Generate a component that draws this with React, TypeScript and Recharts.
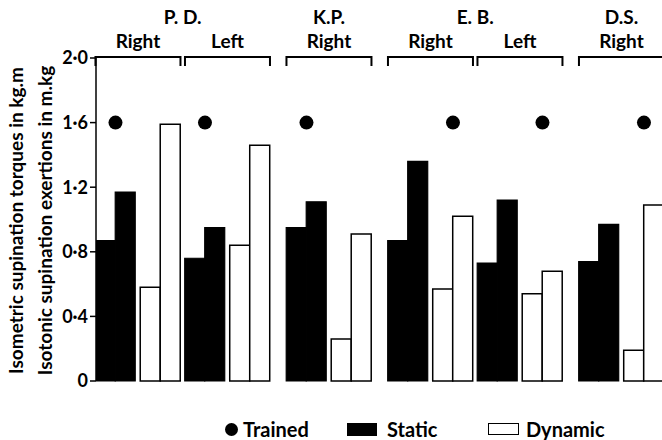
import * as React from "react";
import {
  ComposedChart,
  Bar,
  Scatter,
  XAxis,
  YAxis,
  Legend,
} from "recharts";

// subjects / arms, left to right
const subjects = ["P. D.", "P. D.", "K.P.", "E. B.", "E. B.", "D.S."];
const arms = ["Right", "Left", "Right", "Right", "Left", "Right"];
// which kind of training each arm received
const trainedType = ["static", "static", "static", "dynamic", "dynamic", "dynamic"];

// isometric (static) torques, kg.m
const staticBefore = [0.87, 0.76, 0.95, 0.87, 0.73, 0.74];
const staticAfter = [1.17, 0.95, 1.11, 1.36, 1.12, 0.97];
// isotonic (dynamic) exertions, m.kg
const dynamicBefore = [0.58, 0.84, 0.26, 0.57, 0.54, 0.19];
const dynamicAfter = [1.59, 1.46, 0.91, 1.02, 0.68, 1.09];

const trainedLevel = 1.6;
const yTicks = [0, 0.4, 0.8, 1.2, 1.6, 2.0];
const legendNames = ["Trained", "Static", "Dynamic"];

const FONT = "Lato, 'Open Sans', sans-serif";
const BAR = 20;
const SPACER = 5;
const HALF = (4 * BAR + SPACER) / 2;
const UNIT_PX = 89.5;
const SUBJECT_STEP = 1.134;

// arm positions: arms of the same subject sit closer together
const positions: number[] = [];
subjects.forEach((s, i) => {
  if (i === 0) positions.push(0);
  else positions.push(positions[i - 1] + (s === subjects[i - 1] ? 1 : SUBJECT_STEP));
});
const domain: [number, number] = [-0.469, -0.469 + 566 / UNIT_PX];

const subjectNames = subjects.filter((s, i) => subjects.indexOf(s) === i);
const subjectCenters = subjectNames.map((s) => {
  const ps = positions.filter((_, i) => subjects[i] === s);
  return ps.reduce((a, b) => a + b, 0) / ps.length;
});

const data = positions.map((x, i) => ({
  x,
  arm: arms[i],
  staticBefore: staticBefore[i],
  staticAfter: staticAfter[i],
  dynamicBefore: dynamicBefore[i],
  dynamicAfter: dynamicAfter[i],
}));

// dot sits over the middle of the trained pair
const pairShift = (BAR + SPACER / 2) / UNIT_PX;
const trainedData = positions.map((x, i) => ({
  x: trainedType[i] === "static" ? x - pairShift : x + pairShift,
  level: trainedLevel,
}));

const textStyle = { fontFamily: FONT, fontWeight: 700, fontSize: 19, fill: "#000" };

const ArmTick = (props: any) => {
  const { x, y, payload } = props;
  const i = positions.findIndex((p) => Math.abs(p - payload.value) < 1e-6);
  return (
    <g>
      <path
        d={`M${x - HALF},${y + 8}V${y - 1}H${x + HALF}V${y + 8}`}
        fill="none"
        stroke="#000"
        strokeWidth={2}
      />
      <text x={x} y={y - 10} textAnchor="middle" {...textStyle}>
        {arms[i]}
      </text>
    </g>
  );
};

const SubjectTick = (props: any) => {
  const { x, y, payload } = props;
  const i = subjectCenters.findIndex((p) => Math.abs(p - payload.value) < 1e-6);
  return (
    <text x={x} y={y - 14} textAnchor="middle" {...textStyle}>
      {subjectNames[i]}
    </text>
  );
};

const YLabel = (props: any) => {
  const { viewBox } = props;
  const cy = (viewBox?.y || 0) + (viewBox?.height || 0) / 2 + 1;
  const style = { ...textStyle, fontSize: 19 };
  return (
    <g>
      <text
        x={15}
        y={cy}
        transform={`rotate(-90, 15, ${cy})`}
        textAnchor="middle"
        dominantBaseline="central"
        {...style}
      >
        Isometric supination torques in kg.m
      </text>
      <text
        x={44}
        y={cy}
        transform={`rotate(-90, 44, ${cy})`}
        textAnchor="middle"
        dominantBaseline="central"
        {...style}
      >
        Isotonic supination exertions in m.kg
      </text>
    </g>
  );
};

const legendLeft = [225, 347, 488];

const LegendContent = () => (
  <div style={{ position: "relative", width: 662, height: 22, fontFamily: FONT, fontWeight: 700, fontSize: 20 }}>
    {legendNames.map((name, i) => (
      <div
        key={name}
        style={{ position: "absolute", left: legendLeft[i], top: 0, display: "flex", alignItems: "center", height: 22 }}
      >
        {i === 0 && (
          <span style={{ width: 13, height: 13, borderRadius: 7, background: "#000", marginRight: 5 }} />
        )}
        {i === 1 && <span style={{ width: 30, height: 13, background: "#000", marginRight: 10 }} />}
        {i === 2 && (
          <span
            style={{ width: 29, height: 10, border: "1.5px solid #000", background: "#fff", marginRight: 7 }}
          />
        )}
        <span>{name}</span>
      </div>
    ))}
  </div>
);

const yFormat = (v: number) => (v === 0 ? "0" : v.toFixed(1).replace(".", "·"));

export default function App() {
  return (
    <div style={{ position: "absolute", left: 0, top: 0, background: "#fff" }}>
      <ComposedChart
        width={662}
        height={440}
        data={data}
        barGap={0}
        margin={{ top: 18, right: 0, bottom: 59, left: 0 }}
      >
        <XAxis
          xAxisId="arm"
          orientation="top"
          type="number"
          dataKey="x"
          domain={domain}
          allowDataOverflow
          ticks={positions}
          interval={0}
          tick={<ArmTick />}
          tickSize={0}
          tickMargin={0}
          axisLine={false}
          tickLine={false}
          height={20}
        />
        <XAxis
          xAxisId="subject"
          orientation="top"
          type="number"
          dataKey="x"
          domain={domain}
          allowDataOverflow
          ticks={subjectCenters}
          interval={0}
          tick={<SubjectTick />}
          tickSize={0}
          tickMargin={0}
          axisLine={false}
          tickLine={false}
          height={20}
        />
        <XAxis
          xAxisId="bars"
          type="number"
          dataKey="x"
          domain={domain}
          allowDataOverflow
          tick={false}
          tickLine={false}
          axisLine={{ stroke: "#000", strokeWidth: 1.5 }}
          height={0}
        />
        <XAxis xAxisId="dots" type="number" dataKey="x" domain={domain} allowDataOverflow hide />
        <YAxis
          type="number"
          domain={[0, 2]}
          ticks={yTicks}
          interval={0}
          tickFormatter={yFormat}
          width={96}
          tickSize={6}
          tickMargin={2}
          axisLine={{ stroke: "#000", strokeWidth: 1.5 }}
          tickLine={{ stroke: "#000", strokeWidth: 1.5 }}
          tick={{ ...textStyle, fontSize: 18 }}
          label={<YLabel />}
        />
        <Bar
          xAxisId="bars"
          dataKey="staticBefore"
          barSize={BAR}
          fill="#000"
          stroke="#000"
          strokeWidth={1.2}
          isAnimationActive={false}
        />
        <Bar
          xAxisId="bars"
          dataKey="staticAfter"
          barSize={BAR}
          fill="#000"
          stroke="#000"
          strokeWidth={1.2}
          isAnimationActive={false}
        />
        <Bar xAxisId="bars" dataKey={() => 0} barSize={SPACER} fill="none" isAnimationActive={false} />
        <Bar
          xAxisId="bars"
          dataKey="dynamicBefore"
          barSize={BAR}
          fill="#fff"
          stroke="#000"
          strokeWidth={1.5}
          isAnimationActive={false}
        />
        <Bar
          xAxisId="bars"
          dataKey="dynamicAfter"
          barSize={BAR}
          fill="#fff"
          stroke="#000"
          strokeWidth={1.5}
          isAnimationActive={false}
        />
        <Scatter
          xAxisId="dots"
          data={trainedData}
          dataKey="level"
          isAnimationActive={false}
          shape={(p: any) => <circle cx={p.cx} cy={p.cy} r={7} fill="#000" />}
        />
        <Legend
          verticalAlign="middle"
          align="center"
          content={<LegendContent />}
          wrapperStyle={{ left: 0, top: 418, width: 662 }}
        />
      </ComposedChart>
    </div>
  );
}
